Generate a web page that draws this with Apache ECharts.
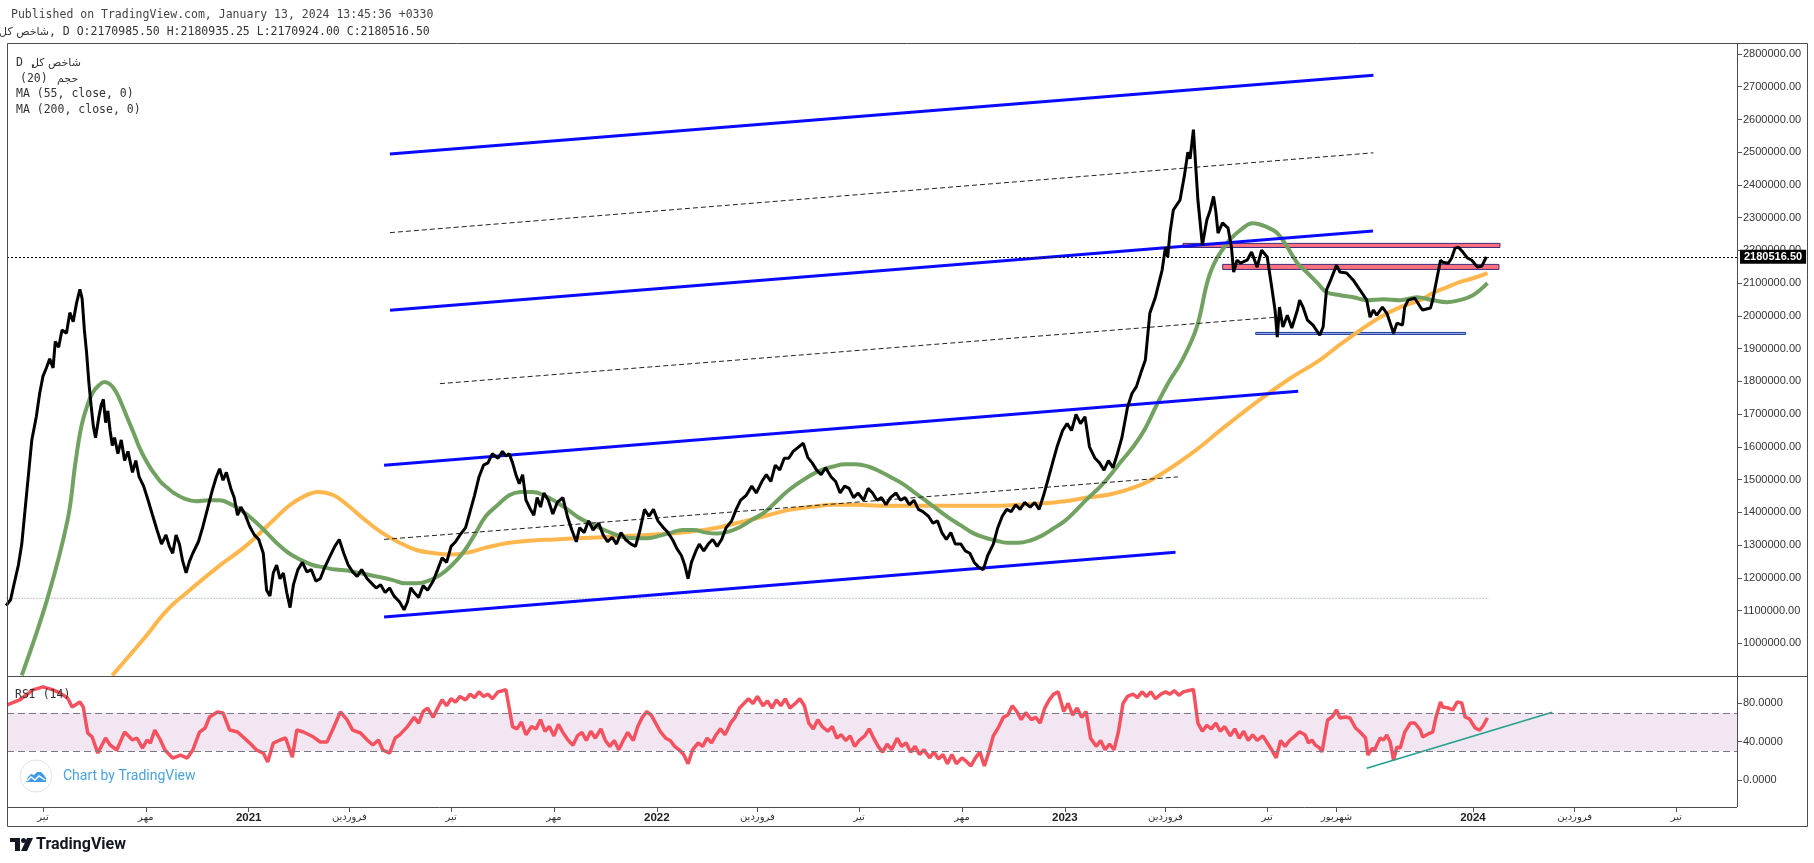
<!DOCTYPE html>
<html><head><meta charset="utf-8">
<script src="https://cdn.jsdelivr.net/npm/echarts@6.0.0/dist/echarts.min.js"></script>
<style>html,body{margin:0;padding:0;background:#fff;}#c{width:1814px;height:863px;}</style>
</head><body><div id="c"></div>
<script>
// ---- data (x = days since 2020-07-01) ----
const DAY0 = [2020, 6, 1];
const xRangeDays = [-32.2, 1515.2];

const priceClose = [[-33,1115000],[-29,1133000],[-26,1179000],[-22,1239000],[-19,1303000],[-16,1409000],[-13,1515000],[-10,1621000],[-6,1692000],[-3,1763000],[0,1816000],[3,1841000],[6,1869000],[9,1841000],[11,1922000],[14,1904000],[17,1957000],[21,1947000],[24,2010000],[27,1982000],[30,2039000],[33,2081000],[35,2053000],[37,1957000],[39,1887000],[41,1798000],[43,1727000],[45,1664000],[47,1628000],[50,1692000],[52,1727000],[54,1745000],[56,1674000],[58,1710000],[60,1650000],[62,1604000],[64,1628000],[67,1579000],[70,1621000],[73,1558000],[76,1586000],[80,1522000],[83,1558000],[86,1508000],[90,1480000],[94,1437000],[98,1391000],[102,1346000],[106,1303000],[110,1331000],[113,1296000],[116,1275000],[119,1331000],[122,1303000],[125,1250000],[128,1215000],[131,1250000],[134,1275000],[139,1310000],[143,1356000],[147,1409000],[151,1462000],[155,1508000],[158,1533000],[161,1498000],[164,1522000],[168,1473000],[171,1445000],[174,1391000],[177,1416000],[181,1391000],[185,1356000],[189,1331000],[193,1317000],[197,1275000],[200,1162000],[203,1144000],[206,1215000],[209,1239000],[212,1197000],[215,1215000],[218,1155000],[221,1109000],[224,1179000],[228,1225000],[232,1247000],[236,1218000],[240,1225000],[244,1190000],[248,1197000],[252,1232000],[256,1261000],[261,1296000],[265,1317000],[269,1275000],[273,1239000],[277,1218000],[281,1204000],[285,1225000],[290,1197000],[294,1183000],[298,1169000],[302,1179000],[306,1155000],[310,1169000],[314,1144000],[319,1126000],[323,1102000],[326,1126000],[329,1169000],[332,1155000],[336,1140000],[340,1176000],[344,1162000],[349,1190000],[353,1225000],[357,1261000],[361,1247000],[365,1296000],[369,1310000],[373,1331000],[378,1353000],[382,1402000],[386,1452000],[390,1508000],[394,1544000],[398,1551000],[402,1579000],[407,1565000],[411,1586000],[414,1572000],[417,1579000],[420,1551000],[423,1515000],[426,1487000],[429,1515000],[432,1437000],[436,1409000],[439,1391000],[442,1445000],[445,1416000],[448,1459000],[452,1437000],[456,1395000],[460,1430000],[465,1445000],[469,1388000],[473,1346000],[477,1310000],[480,1353000],[484,1338000],[488,1374000],[492,1346000],[497,1367000],[501,1331000],[505,1310000],[509,1324000],[513,1303000],[517,1338000],[521,1317000],[526,1303000],[530,1296000],[534,1346000],[538,1409000],[542,1388000],[546,1409000],[550,1374000],[555,1353000],[559,1338000],[563,1317000],[567,1289000],[571,1268000],[574,1239000],[577,1197000],[580,1247000],[584,1282000],[587,1303000],[591,1282000],[595,1303000],[599,1317000],[603,1296000],[607,1317000],[611,1353000],[616,1374000],[620,1409000],[624,1437000],[629,1452000],[634,1480000],[638,1459000],[643,1494000],[647,1515000],[651,1494000],[655,1544000],[659,1529000],[663,1565000],[667,1565000],[671,1586000],[676,1600000],[680,1611000],[684,1568000],[688,1551000],[692,1529000],[696,1515000],[700,1536000],[705,1508000],[709,1494000],[713,1459000],[717,1480000],[721,1473000],[725,1445000],[729,1459000],[734,1437000],[738,1473000],[742,1459000],[746,1437000],[750,1445000],[754,1423000],[758,1445000],[763,1459000],[767,1437000],[771,1445000],[775,1423000],[779,1437000],[783,1409000],[787,1402000],[792,1388000],[796,1367000],[800,1374000],[804,1338000],[808,1317000],[812,1338000],[816,1303000],[821,1303000],[825,1282000],[829,1275000],[833,1247000],[837,1232000],[841,1225000],[845,1268000],[850,1303000],[854,1353000],[858,1388000],[862,1409000],[866,1402000],[870,1423000],[874,1409000],[878,1430000],[883,1416000],[887,1430000],[891,1409000],[895,1452000],[899,1501000],[903,1551000],[907,1600000],[912,1650000],[916,1671000],[920,1650000],[924,1699000],[928,1671000],[932,1692000],[936,1600000],[941,1565000],[945,1551000],[949,1529000],[953,1558000],[957,1536000],[961,1579000],[965,1628000],[970,1720000],[974,1763000],[978,1784000],[982,1826000],[986,1865000],[990,2008000],[995,2057000],[1001,2140000],[1004,2210000],[1006,2180000],[1008,2253000],[1011,2323000],[1017,2354000],[1021,2430000],[1024,2500000],[1026,2480000],[1029,2569000],[1031,2460000],[1033,2354000],[1037,2216000],[1041,2293000],[1044,2323000],[1047,2365000],[1049,2320000],[1051,2253000],[1055,2284000],[1060,2268000],[1063,2210000],[1065,2134000],[1068,2170000],[1071,2161000],[1077,2170000],[1081,2195000],[1086,2149000],[1090,2201000],[1095,2180000],[1099,2088000],[1102,2018000],[1104,1935000],[1106,2027000],[1109,1966000],[1113,2002000],[1117,1963000],[1122,2018000],[1124,2048000],[1127,2027000],[1131,1987000],[1136,1972000],[1142,1941000],[1145,1966000],[1148,2079000],[1151,2103000],[1157,2155000],[1160,2134000],[1166,2131000],[1172,2109000],[1178,2079000],[1184,2048000],[1187,1996000],[1190,2018000],[1193,2002000],[1198,2027000],[1202,2008000],[1205,1978000],[1208,1947000],[1211,1978000],[1216,1972000],[1218,2027000],[1221,2048000],[1227,2054000],[1232,2027000],[1234,2018000],[1241,2024000],[1243,2048000],[1247,2118000],[1250,2170000],[1252,2164000],[1257,2161000],[1260,2177000],[1263,2207000],[1266,2210000],[1270,2195000],[1274,2177000],[1278,2170000],[1283,2149000],[1287,2152000],[1291,2180516.5]];

const ma55 = [[-19,902000],[4,1137000],[22,1377000],[29,1551000],[34,1657000],[39,1720000],[44,1763000],[50,1788000],[55,1798000],[60,1791000],[65,1770000],[70,1734000],[75,1692000],[81,1643000],[86,1600000],[91,1565000],[96,1536000],[101,1512000],[106,1490000],[112,1473000],[117,1459000],[127,1441000],[137,1434000],[148,1437000],[158,1437000],[169,1423000],[179,1402000],[189,1374000],[200,1338000],[210,1303000],[220,1275000],[231,1254000],[241,1239000],[251,1232000],[262,1225000],[272,1222000],[282,1215000],[293,1208000],[303,1201000],[313,1193000],[324,1183000],[334,1183000],[344,1190000],[355,1208000],[365,1236000],[376,1278000],[386,1331000],[396,1388000],[407,1423000],[417,1452000],[427,1462000],[438,1462000],[448,1452000],[458,1434000],[469,1409000],[479,1384000],[489,1367000],[500,1349000],[510,1335000],[520,1324000],[531,1321000],[541,1321000],[551,1328000],[562,1338000],[572,1346000],[582,1346000],[593,1338000],[603,1335000],[614,1342000],[624,1356000],[634,1377000],[645,1399000],[655,1430000],[665,1462000],[676,1490000],[686,1512000],[696,1529000],[707,1540000],[717,1547000],[727,1547000],[738,1540000],[748,1526000],[758,1508000],[769,1487000],[779,1462000],[789,1437000],[800,1409000],[810,1384000],[821,1360000],[831,1338000],[841,1324000],[852,1314000],[862,1307000],[872,1307000],[883,1314000],[893,1328000],[903,1349000],[914,1374000],[924,1406000],[934,1441000],[945,1476000],[955,1515000],[965,1558000],[976,1604000],[986,1657000],[996,1727000],[1007,1798000],[1019,1865000],[1032,1966000],[1044,2131000],[1059,2222000],[1071,2262000],[1082,2283000],[1095,2271000],[1104,2253000],[1113,2210000],[1122,2161000],[1131,2131000],[1140,2100000],[1148,2073000],[1160,2063000],[1172,2057000],[1184,2048000],[1199,2051000],[1214,2048000],[1229,2057000],[1243,2048000],[1256,2042000],[1267,2048000],[1279,2063000],[1292,2100000]];

const ma200 = [[62,902000],[89,1009000],[111,1101000],[129,1156000],[156,1232000],[182,1299000],[206,1376000],[220,1420000],[233,1448000],[246,1462000],[260,1452000],[272,1423000],[288,1377000],[303,1338000],[319,1307000],[334,1285000],[350,1275000],[365,1271000],[381,1278000],[396,1292000],[417,1307000],[438,1314000],[458,1317000],[479,1321000],[500,1324000],[520,1328000],[541,1331000],[562,1335000],[582,1342000],[603,1353000],[624,1370000],[645,1388000],[665,1406000],[686,1416000],[707,1423000],[727,1423000],[748,1420000],[769,1420000],[789,1420000],[810,1420000],[831,1420000],[852,1420000],[872,1423000],[893,1427000],[914,1434000],[934,1445000],[955,1455000],[976,1476000],[996,1508000],[1027,1579000],[1058,1664000],[1090,1748000],[1115,1808000],[1142,1865000],[1160,1912000],[1178,1956000],[1196,1996000],[1214,2027000],[1232,2048000],[1243,2070000],[1256,2088000],[1267,2103000],[1279,2115000],[1292,2131000]];

const rsi14 = [[-32,78.2],[-21,83.4],[-9,93.9],[0,97.0],[9,93.9],[15,90.8],[22,85.5],[26,76.1],[33,81.4],[36,76.1],[40,49.0],[44,44.8],[49,28.1],[56,43.8],[60,36.5],[66,31.3],[73,50.0],[80,41.7],[84,43.8],[89,33.3],[93,41.7],[96,38.5],[100,52.1],[105,41.7],[109,31.3],[116,22.9],[123,26.0],[129,22.9],[134,31.3],[140,50.0],[145,54.2],[149,65.7],[156,70.9],[161,69.9],[167,52.1],[174,50.0],[179,44.8],[185,38.5],[191,31.3],[197,28.1],[201,18.7],[206,38.5],[212,41.7],[217,43.8],[223,23.9],[227,52.1],[233,50.0],[242,44.8],[248,39.6],[254,39.6],[259,52.1],[266,70.9],[272,62.6],[277,52.1],[284,49.0],[290,41.7],[295,36.5],[300,41.7],[304,31.3],[310,28.1],[315,43.8],[319,47.0],[326,55.7],[332,65.3],[336,59.3],[340,71.4],[344,75.0],[349,65.3],[353,75.0],[357,83.5],[361,77.4],[365,84.7],[369,81.2],[373,87.1],[378,83.5],[382,89.5],[386,85.9],[390,91.9],[394,87.1],[398,89.5],[402,84.7],[407,91.9],[411,93.1],[414,94.3],[417,75.0],[420,55.7],[424,53.3],[428,60.5],[432,47.2],[437,55.7],[441,53.3],[445,62.9],[449,50.8],[453,55.7],[457,46.0],[461,58.1],[465,49.6],[470,41.2],[474,36.3],[478,46.0],[482,49.6],[486,41.2],[490,50.8],[494,43.6],[499,53.3],[503,41.2],[507,35.1],[511,41.2],[515,31.5],[519,41.2],[523,49.6],[528,41.2],[532,55.7],[536,65.3],[540,71.4],[544,67.7],[548,59.3],[552,50.8],[557,43.6],[561,41.2],[565,35.1],[569,31.5],[573,26.7],[577,17.0],[581,31.5],[586,38.8],[590,35.1],[594,43.6],[598,38.8],[602,47.2],[606,53.3],[610,47.2],[615,59.3],[619,65.3],[623,75.0],[627,79.8],[631,84.7],[635,79.8],[639,87.1],[644,77.4],[648,82.3],[652,75.0],[656,83.5],[660,77.4],[664,84.7],[668,75.0],[673,79.8],[677,84.7],[681,77.4],[685,59.3],[689,53.3],[693,62.9],[697,55.7],[702,50.8],[706,55.7],[710,43.6],[714,47.2],[718,41.2],[722,46.0],[726,35.1],[730,41.2],[735,46.0],[739,53.3],[743,43.6],[747,35.1],[751,29.1],[755,37.5],[759,31.5],[764,43.6],[768,35.1],[772,38.8],[776,29.1],[780,35.1],[784,26.7],[788,31.5],[793,23.1],[797,29.1],[801,21.9],[805,26.7],[809,17.0],[813,26.7],[817,17.0],[822,23.1],[826,19.4],[830,14.6],[834,23.1],[838,29.1],[842,14.6],[846,29.1],[850,46.0],[855,55.7],[859,65.3],[863,67.7],[867,77.4],[871,71.4],[875,62.9],[879,70.2],[884,62.9],[888,65.3],[892,59.3],[896,75.0],[900,83.5],[904,89.5],[908,91.9],[913,71.4],[917,79.8],[921,67.7],[925,75.0],[929,65.3],[933,71.4],[937,43.6],[942,35.1],[946,41.2],[950,31.5],[954,37.5],[958,31.5],[962,50.8],[966,79.8],[970,87.1],[975,89.5],[979,85.9],[983,91.9],[987,87.1],[991,91.9],[995,84.7],[1000,89.5],[1004,91.9],[1008,89.5],[1012,93.1],[1016,88.3],[1020,91.9],[1024,93.1],[1029,94.3],[1033,59.3],[1037,50.8],[1041,56.9],[1045,53.3],[1049,59.3],[1053,50.8],[1057,55.7],[1062,46.0],[1066,53.3],[1070,43.6],[1074,50.8],[1078,41.2],[1082,47.2],[1086,41.2],[1091,46.0],[1095,38.8],[1099,31.5],[1103,23.1],[1107,41.2],[1111,35.1],[1115,41.2],[1120,46.0],[1124,50.4],[1129,46.9],[1132,38.6],[1135,41.7],[1138,36.5],[1142,33.3],[1144,29.2],[1149,62.6],[1153,65.7],[1157,73.0],[1160,64.7],[1165,65.7],[1169,64.7],[1174,54.2],[1178,50.0],[1183,43.8],[1185,26.0],[1189,33.3],[1191,31.3],[1196,43.8],[1199,41.7],[1202,47.0],[1205,39.6],[1208,20.8],[1211,34.4],[1214,33.3],[1218,50.0],[1223,59.4],[1227,59.4],[1232,52.1],[1234,44.8],[1239,48.0],[1243,50.0],[1246,65.7],[1250,81.4],[1252,76.1],[1257,75.1],[1261,73.0],[1265,81.4],[1269,80.3],[1272,65.7],[1276,63.6],[1281,54.2],[1285,52.1],[1288,56.3],[1292,64.7]];

// drawn trend lines: [day1, value1, day2, value2]
const channelLines = [[310.3,2494700,1190.0,2735200],[310.4,2017600,1189.6,2259000],[305.1,1543500,1122.7,1769800],[305.1,1080300,1013.0,1278300]];
const midLines = [[310.3,2254300,1190.0,2498200],[355.0,1793000,1103.8,1996200],[305.1,1317200,1015.1,1508200]];
const dottedLevel = [-33, 1137400, 1293, 1137400];
const resistanceZones = [[1019.7,2209000,1303.2,2221500],[1055.2,2142000,1302.3,2157300]];
const supportZones = [[1084.7,1943400,1272.5,1949500]];
const lastClose = 2180516.50;
const rsiTrend = [1184, 12.2, 1350, 70.6];
const rsiBands = [30, 70];

const priceTicks = [1000000,1100000,1200000,1300000,1400000,1500000,1600000,1700000,1800000,1900000,2000000,2100000,2200000,2300000,2400000,2500000,2600000,2700000,2800000];
const rsiTicks = [0, 40, 80];
const FA_TIR = '\u062A\u06CC\u0631', FA_MEHR = '\u0645\u0647\u0631', FA_FARV = '\u0641\u0631\u0648\u0631\u062F\u06CC\u0646', FA_SHAH = '\u0634\u0647\u0631\u06CC\u0648\u0631';
const timeTicks = [['2020-07-01',FA_TIR],['2020-10-01',FA_MEHR],['2021-01-01','2021'],['2021-04-01',FA_FARV],['2021-07-01',FA_TIR],['2021-10-01',FA_MEHR],['2022-01-01','2022'],['2022-04-01',FA_FARV],['2022-07-01',FA_TIR],['2022-10-01',FA_MEHR],['2023-01-01','2023'],['2023-04-01',FA_FARV],['2023-07-01',FA_TIR],['2023-09-01',FA_SHAH],['2024-01-01','2024'],['2024-04-01',FA_FARV],['2024-07-01',FA_TIR]];
const SYMBOL_NAME = '\u0634\u0627\u062E\u0635 \u06A9\u0644';   // شاخص کل
const VOLUME_NAME = '\u062D\u062C\u0645';                       // حجم

// ---- build ----
const BASE = Date.UTC(DAY0[0], DAY0[1], DAY0[2]);
const DMS = 86400000;
const dayOf = s => { const a = s.split('-'); return Math.round((Date.UTC(+a[0], +a[1]-1, +a[2]) - BASE) / DMS); };
const tickDays = timeTicks.map(x => dayOf(x[0]));
const tickLabel = {};
timeTicks.forEach(x => { tickLabel[dayOf(x[0])] = x[1]; });

const seg = (l) => [[l[0], l[1]], [l[2], l[3]]];
const series = [];

channelLines.forEach(l => series.push({type:'line', xAxisIndex:0, yAxisIndex:0, data: seg(l), symbol:'none', silent:true, z:3, lineStyle:{color:'#0a0aff', width:3}}));
midLines.forEach(l => series.push({type:'line', xAxisIndex:0, yAxisIndex:0, data: seg(l), symbol:'none', silent:true, z:3, lineStyle:{color:'#222', width:1, type:[5,3]}}));
series.push({type:'line', xAxisIndex:0, yAxisIndex:0, data: seg(dottedLevel), symbol:'none', silent:true, z:2, lineStyle:{color:'#8fd9c4', width:1, type:[2,4]}});
series.push({type:'line', xAxisIndex:0, yAxisIndex:0, data: seg(dottedLevel), symbol:'none', silent:true, z:2, lineStyle:{color:'#f2a0b2', width:1, type:[2,4], dashOffset:3}});

series.push({name:'MA200', type:'line', xAxisIndex:0, yAxisIndex:0, data: ma200, symbol:'none', smooth:0.4, silent:true, z:2, lineStyle:{color:'#ffb74d', width:4}});
series.push({name:'MA55', type:'line', xAxisIndex:0, yAxisIndex:0, data: ma55, symbol:'none', smooth:0.4, silent:true, z:2, lineStyle:{color:'#72a262', width:4}});

series.push({type:'line', xAxisIndex:0, yAxisIndex:0, data: [], silent:true, z:4,
  markArea:{silent:true, label:{show:false}, data:
    resistanceZones.map(z => [{coord:[z[0], z[1]], itemStyle:{color:'rgba(255,10,30,0.58)', borderColor:'#3b2a7e', borderWidth:1}}, {coord:[z[2], z[3]]}])
    .concat(supportZones.map(z => [{coord:[z[0], z[1]], itemStyle:{color:'rgba(40,90,230,0.5)', borderColor:'#1f3d9a', borderWidth:1}}, {coord:[z[2], z[3]]}]))
  }});

series.push({name:'close', type:'line', xAxisIndex:0, yAxisIndex:0, data: priceClose, symbol:'none', silent:true, z:5,
  lineStyle:{color:'#000', width:3},
  markLine:{silent:true, symbol:'none', z:10, data:[{yAxis:lastClose}],
    lineStyle:{color:'#000', width:1, type:[2,2]},
    label:{show:true, position:'end', distance:3, formatter: () => lastClose.toFixed(2), backgroundColor:'#000', color:'#fff', padding:[2,4,1,4], fontSize:11, fontWeight:'bold', fontFamily:'Liberation Sans, Arial, sans-serif'}}});

// RSI pane
series.push({type:'line', xAxisIndex:1, yAxisIndex:1, data: [], silent:true, z:1,
  markArea:{silent:true, label:{show:false}, itemStyle:{color:'#f1e6f1'}, data:[[{yAxis:rsiBands[0]},{yAxis:rsiBands[1]}]]},
  markLine:{silent:true, symbol:'none', label:{show:false}, lineStyle:{color:'#787b86', width:1, type:[7,4]}, data: rsiBands.map(v => ({yAxis:v}))}});
series.push({name:'RSI', type:'line', xAxisIndex:1, yAxisIndex:1, data: rsi14, symbol:'none', silent:true, z:3, lineStyle:{color:'#f5515f', width:3.5}});
series.push({type:'line', xAxisIndex:1, yAxisIndex:1, data: seg(rsiTrend), symbol:'none', silent:true, z:4, lineStyle:{color:'#22a08c', width:1.5}});

const axisFont = {fontFamily:'Liberation Sans, Arial, DejaVu Sans, sans-serif', fontSize:11, color:'#333'};
const monoFont = '11.5px "DejaVu Sans Mono", "Liberation Mono", monospace';
const faFont = '11px "DejaVu Sans", sans-serif';
const txt = (x, y, text, font, fill, align) => ({type:'text', x:x, y:y, z:50, silent:true, style:{text:text, font:font || monoFont, fill:fill || '#333', verticalAlign:'middle', align:align || 'left'}});

const option = {
  animation:false, backgroundColor:'#fff',
  grid:[{left:7, top:43, width:1730, height:633}, {left:7, top:676, width:1730, height:131}],
  xAxis:[
    {type:'value', gridIndex:0, min:xRangeDays[0], max:xRangeDays[1], position:'bottom', axisLine:{show:false, onZero:false}, axisTick:{show:false}, axisLabel:{show:false}, splitLine:{show:false}},
    {type:'value', gridIndex:1, min:xRangeDays[0], max:xRangeDays[1], position:'bottom', axisLine:{show:false, onZero:false},
      axisTick:{show:true, customValues: tickDays, length:5, lineStyle:{color:'#555'}},
      axisLabel:{show:true, customValues: tickDays, margin:5,
        formatter: v => { const s = tickLabel[Math.round(v)] || ''; return /^\d+$/.test(s) ? '{y|' + s + '}' : '{m|' + s + '}'; },
        rich:{y:{fontFamily:'Liberation Sans, Arial, sans-serif', fontWeight:'bold', fontSize:11.5, color:'#222'}, m:{fontFamily:'DejaVu Sans, sans-serif', fontSize:10, color:'#333'}}},
      splitLine:{show:false}}
  ],
  yAxis:[
    {type:'value', gridIndex:0, position:'right', min:900000, max:2833600, axisLine:{show:false, onZero:false},
      axisTick:{show:true, customValues: priceTicks, length:5, lineStyle:{color:'#555'}},
      axisLabel:Object.assign({customValues: priceTicks, margin:6, formatter: v => v.toFixed(2)}, axisFont), splitLine:{show:false}},
    {type:'value', gridIndex:1, position:'right', min:-28.1, max:108.4, axisLine:{show:false, onZero:false},
      axisTick:{show:true, customValues: rsiTicks, length:5, lineStyle:{color:'#555'}},
      axisLabel:Object.assign({customValues: rsiTicks, margin:6, formatter: v => v.toFixed(4)}, axisFont), splitLine:{show:false}}
  ],
  series: series,
  graphic:[
    txt(11, 15, 'Published on TradingView.com, January 13, 2024 13:45:36 +0330', monoFont, '#444'),
    txt(49, 32, SYMBOL_NAME, faFont, '#333', 'right'),
    txt(49, 32, ', D O:2170985.50 H:2180935.25 L:2170924.00 C:2180516.50'),
    txt(16, 63, 'D ,'),
    txt(31, 63, SYMBOL_NAME, faFont),
    txt(20, 79, '(20)'),
    txt(57, 79, VOLUME_NAME, faFont),
    txt(16, 94, 'MA (55, close, 0)'),
    txt(16, 110, 'MA (200, close, 0)'),
    txt(15, 695, 'RSI (14)'),
    // frame
    {type:'rect', z:60, silent:true, shape:{x:7.5, y:43.5, width:1800, height:783}, style:{fill:null, stroke:'#4d4d4d', lineWidth:1}},
    {type:'line', z:60, silent:true, shape:{x1:7, y1:676.5, x2:1807, y2:676.5}, style:{stroke:'#4d4d4d', lineWidth:1}},
    {type:'line', z:60, silent:true, shape:{x1:1737.5, y1:43, x2:1737.5, y2:807}, style:{stroke:'#4d4d4d', lineWidth:1}},
    {type:'line', z:60, silent:true, shape:{x1:7, y1:807.5, x2:1737, y2:807.5}, style:{stroke:'#4d4d4d', lineWidth:1}},
    // watermark
    {type:'circle', z:50, silent:true, shape:{cx:36, cy:776, r:16}, style:{fill:'#fff', stroke:'#e0e3eb', lineWidth:1}},
    {type:'polygon', z:51, silent:true, shape:{points:[[26,782],[28,777],[31,774],[34,775],[37,772],[41,772],[44,775],[46,778],[46,782]]}, style:{fill:'#3f9be6'}},
    {type:'polyline', z:52, silent:true, shape:{points:[[27,781],[31,777],[35,780],[39,776],[45,780]]}, style:{stroke:'#fff', lineWidth:1.5, fill:null}},
    txt(63, 776, 'Chart by TradingView', '14px Roboto, "Open Sans", sans-serif', '#4aa3e0'),
    // TradingView logo
    {type:'rect', z:50, silent:true, shape:{x:10, y:838, width:10, height:4}, style:{fill:'#131722'}},
    {type:'rect', z:50, silent:true, shape:{x:15, y:838, width:5, height:13}, style:{fill:'#131722'}},
    {type:'circle', z:50, silent:true, shape:{cx:23.5, cy:840.5, r:2.5}, style:{fill:'#131722'}},
    {type:'polygon', z:50, silent:true, shape:{points:[[27,838],[33,838],[27,851],[21,851]]}, style:{fill:'#131722'}},
    txt(36, 845, 'TradingView', 'bold 16px Roboto, "Open Sans", sans-serif', '#131722')
  ]
};

const chart = echarts.init(document.getElementById('c'), null, {renderer:'canvas'});
chart.setOption(option);
</script></body></html>
